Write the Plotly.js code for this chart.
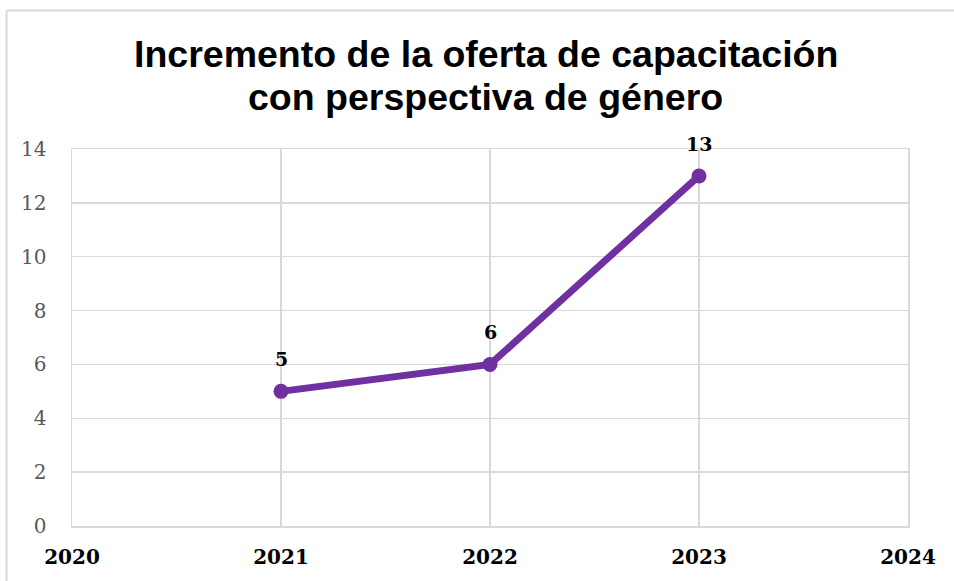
<!DOCTYPE html>
<html>
<head>
<meta charset="utf-8">
<script src="https://cdn.plot.ly/plotly-3.0.1.min.js"></script>
<style>
html,body{margin:0;padding:0;background:#fff;}
#chart{width:954px;height:581px;}
</style>
</head>
<body>
<div id="chart"></div>
<script>
var years = [2021, 2022, 2023];
var values = [5, 6, 13];
var xTicks = [2020, 2021, 2022, 2023, 2024];
var yTicks = [0, 2, 4, 6, 8, 10, 12, 14];
var titleLines = ["Incremento de la oferta de capacitación", "con perspectiva de género"];

var trace = {
  x: years,
  y: values,
  type: 'scatter',
  mode: 'lines+markers',
  line: {color: '#7030A0', width: 7},
  marker: {color: '#7030A0', size: 15},
  hoverinfo: 'none',
  cliponaxis: false
};

var annotations = years.map(function (yr, i) {
  return {
    x: yr, y: values[i], xref: 'x', yref: 'y',
    text: '<b>' + values[i] + '</b>',
    showarrow: false, yshift: 32,
    font: {family: 'DejaVu Serif', size: 19, color: '#000000'}
  };
});
annotations.push({
  x: 0.495, y: (526 - 54) / 377, xref: 'paper', yref: 'paper',
  text: '<b>' + titleLines[0] + '</b>', showarrow: false,
  xanchor: 'center', yanchor: 'middle',
  font: {family: 'Liberation Sans', size: 37.5, color: '#000000'}
});
annotations.push({
  x: 0.495, y: (526 - 97) / 377, xref: 'paper', yref: 'paper',
  text: '<b>' + titleLines[1] + '</b>', showarrow: false,
  xanchor: 'center', yanchor: 'middle',
  font: {family: 'Liberation Sans', size: 37.5, color: '#000000'}
});

var layout = {
  width: 954, height: 581,
  margin: {l: 72, r: 46, t: 149, b: 55, pad: 0},
  paper_bgcolor: '#ffffff', plot_bgcolor: '#ffffff',
  showlegend: false,
  xaxis: {
    range: [2020, 2024], tickvals: xTicks, ticktext: xTicks.map(function (v) { return '<b>' + v + '</b>'; }),
    showgrid: true, gridcolor: '#d9d9d9', gridwidth: 1.5,
    zeroline: false, showline: true, mirror: true, linecolor: '#d9d9d9', linewidth: 1.5,
    ticks: '', ticklabelstandoff: 12,
    tickfont: {family: 'DejaVu Serif', size: 20, color: '#000000'},
    fixedrange: true
  },
  yaxis: {
    range: [0, 14], tickvals: yTicks,
    showgrid: true, gridcolor: '#d9d9d9', gridwidth: 1.5,
    zeroline: false, showline: true, mirror: true, linecolor: '#d9d9d9', linewidth: 1.5,
    ticks: '', ticklabelstandoff: 20,
    tickfont: {family: 'DejaVu Serif', size: 20, color: '#595959'},
    fixedrange: true
  },
  annotations: annotations,
  shapes: [
    {type: 'line', xref: 'paper', yref: 'paper', x0: -0.0783, x1: 1.1, y0: 1.3674, y1: 1.3674,
     line: {color: '#d9d9d9', width: 2}},
    {type: 'line', xref: 'paper', yref: 'paper', x0: -0.0783, x1: -0.0783, y0: 1.3674, y1: -0.2,
     line: {color: '#d9d9d9', width: 2}}
  ]
};

Plotly.newPlot('chart', [trace], layout, {staticPlot: true, displayModeBar: false});
</script>
</body>
</html>
